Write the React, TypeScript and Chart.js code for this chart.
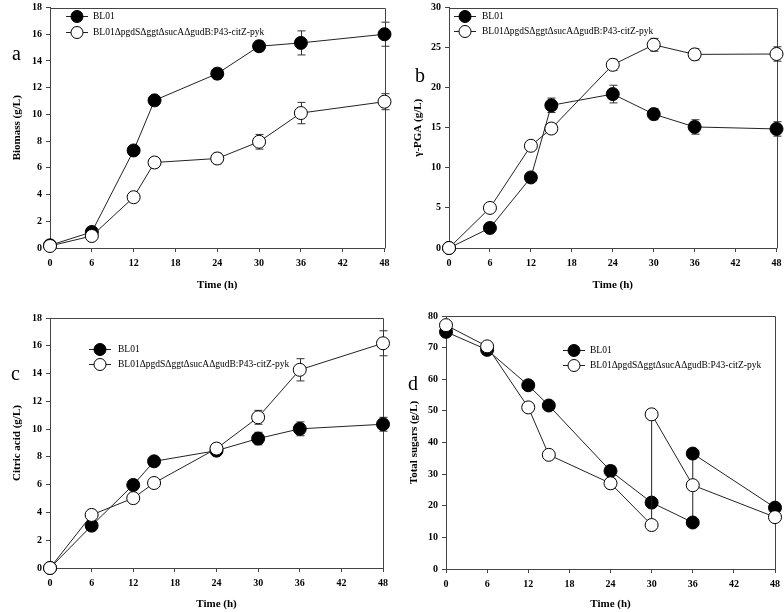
import React, { useEffect, useRef } from 'react';
import { Chart, registerables } from 'chart.js';

Chart.register(...registerables);

const FONT = "'Liberation Serif', 'Times New Roman', Times, serif";
const LINE = '#222';
const FRAME = '#444';

const seriesLabels = ['BL01', 'BL01ΔpgdSΔggtΔsucAΔgudB:P43-citZ-pyk'];
const timeH = [0, 6, 12, 15, 24, 30, 36, 48];
const timeStep = 6;
const timeMax = 48;

// Panel a: Biomass
const biomassBL01 = [0.2, 1.2, 7.3, 11.05, 13.05, 15.1, 15.35, 16.0];
const biomassBL01Err = [0, 0.1, 0.2, 0.2, 0.4, 0.4, 0.9, 0.9];
const biomassMut = [0.15, 0.9, 3.8, 6.4, 6.7, 7.95, 10.1, 10.95];
const biomassMutErr = [0, 0.1, 0.2, 0.2, 0.4, 0.55, 0.8, 0.6];

// Panel b: γ-PGA
const pgaBL01 = [0, 2.5, 8.8, 17.8, 19.2, 16.7, 15.1, 14.85];
const pgaBL01Err = [0, 0.2, 0.3, 0.9, 1.1, 0.7, 0.9, 0.9];
const pgaMut = [0, 5.0, 12.75, 14.9, 22.85, 25.35, 24.15, 24.2];
const pgaMutErr = [0, 0.2, 0.3, 0.4, 0.7, 0.8, 0.7, 0.9];

// Panel c: Citric acid
const citBL01 = [0, 3.05, 5.98, 7.68, 8.45, 9.32, 10.02, 10.35];
const citBL01Err = [0, 0.1, 0.15, 0.15, 0.2, 0.45, 0.5, 0.5];
const citMut = [0, 3.82, 5.03, 6.12, 8.6, 10.85, 14.27, 16.18];
const citMutErr = [0, 0.1, 0.15, 0.15, 0.15, 0.5, 0.8, 0.9];

// Panel d: Total sugars (fed-batch; repeated time points)
const sugarTimeBL01 = [0, 6, 12, 15, 24, 30, 36, 36, 48];
const sugarBL01 = [75.0, 69.3, 58.1, 51.7, 31.0, 21.0, 14.7, 36.5, 19.4];
const sugarBL01Err = [0, 0, 0, 0, 1.5, 0, 0, 0, 0];
const sugarTimeMut = [0, 6, 12, 15, 24, 30, 30, 36, 48];
const sugarMut = [77.1, 70.4, 51.1, 36.1, 27.1, 13.9, 48.9, 26.5, 16.4];
const sugarMutErr = [0, 0, 0, 0, 1.5, 0, 0, 0, 0];

type Series = { xs: number[]; ys: number[]; errs: number[] };
type PanelSpec = {
  left: number; top: number; w: number; h: number;
  area: { l: number; r: number; t: number; b: number };
  yMax: number; yStep: number; yTitle: string; yTitlePad: number; xTitlePad: number;
  letter: string; letterX: number; letterY: number;
  legendX: number; legendTextX: number; legendY: [number, number];
  series: [Series, Series];
};

const panels: PanelSpec[] = [
  {
    left: 0, top: 0, w: 392, h: 306,
    area: { l: 50, r: 387, t: 5, b: 248 },
    yMax: 18, yStep: 2, yTitle: 'Biomass (g/L)', yTitlePad: 11, xTitlePad: 14,
    letter: 'a', letterX: 12, letterY: 60,
    legendX: 77, legendTextX: 93, legendY: [16, 32],
    series: [
      { xs: timeH, ys: biomassBL01, errs: biomassBL01Err },
      { xs: timeH, ys: biomassMut, errs: biomassMutErr },
    ],
  },
  {
    left: 392, top: 0, w: 392, h: 306,
    area: { l: 57, r: 387, t: 6, b: 248 },
    yMax: 30, yStep: 5, yTitle: 'γ-PGA (g/L)', yTitlePad: 20, xTitlePad: 14,
    letter: 'b', letterX: 23, letterY: 82,
    legendX: 73, legendTextX: 90, legendY: [16, 31],
    series: [
      { xs: timeH, ys: pgaBL01, errs: pgaBL01Err },
      { xs: timeH, ys: pgaMut, errs: pgaMutErr },
    ],
  },
  {
    left: 0, top: 306, w: 392, h: 306,
    area: { l: 50, r: 383, t: 12, b: 262 },
    yMax: 18, yStep: 2, yTitle: 'Citric acid (g/L)', yTitlePad: 11, xTitlePad: 1,
    letter: 'c', letterX: 11, letterY: 74,
    legendX: 100, legendTextX: 118, legendY: [43, 58],
    series: [
      { xs: timeH, ys: citBL01, errs: citBL01Err },
      { xs: timeH, ys: citMut, errs: citMutErr },
    ],
  },
  {
    left: 392, top: 306, w: 392, h: 306,
    area: { l: 54, r: 383, t: 10, b: 263 },
    yMax: 80, yStep: 10, yTitle: 'Total sugars (g/L)', yTitlePad: 16, xTitlePad: 1,
    letter: 'd', letterX: 16, letterY: 84,
    legendX: 182, legendTextX: 198, legendY: [44, 59],
    series: [
      { xs: sugarTimeBL01, ys: sugarBL01, errs: sugarBL01Err },
      { xs: sugarTimeMut, ys: sugarMut, errs: sugarMutErr },
    ],
  },
];

function PanelChart({ spec }: { spec: PanelSpec }) {
  const ref = useRef<HTMLCanvasElement>(null);
  useEffect(() => {
    const canvas = ref.current;
    if (!canvas) return;
    const s = spec;
    const fills = ['#000', '#fff'];

    const decor = {
      id: 'decor',
      beforeDatasetsDraw(chart: any) {
        const ctx = chart.ctx;
        const a = chart.chartArea;
        ctx.save();
        ctx.strokeStyle = FRAME;
        ctx.lineWidth = 1;
        ctx.beginPath();
        const L = Math.round(a.left) + 0.5, R = Math.round(a.right) + 0.5;
        const T = Math.round(a.top) + 0.5, B = Math.round(a.bottom) + 0.5;
        ctx.moveTo(L, T); ctx.lineTo(R, T); ctx.lineTo(R, B);
        ctx.stroke();
        // error bars
        const yScale = chart.scales.y;
        ctx.strokeStyle = '#333';
        s.series.forEach((ser, i) => {
          const meta = chart.getDatasetMeta(i);
          ser.errs.forEach((e, j) => {
            if (!e) return;
            const el = meta.data[j];
            const x = Math.round(el.x) + 0.5;
            const yt = yScale.getPixelForValue(ser.ys[j] + e);
            const yb = yScale.getPixelForValue(ser.ys[j] - e);
            ctx.beginPath();
            ctx.moveTo(x, yt); ctx.lineTo(x, yb);
            ctx.moveTo(x - 4, yt); ctx.lineTo(x + 4, yt);
            ctx.moveTo(x - 4, yb); ctx.lineTo(x + 4, yb);
            ctx.stroke();
          });
        });
        ctx.restore();
      },
      afterDraw(chart: any) {
        const ctx = chart.ctx;
        ctx.save();
        // legend
        seriesLabels.forEach((lab, i) => {
          const y = s.legendY[i] + 0.5;
          ctx.strokeStyle = LINE;
          ctx.lineWidth = 1;
          ctx.beginPath();
          ctx.moveTo(s.legendX - 11, y);
          ctx.lineTo(s.legendX + 11, y);
          ctx.stroke();
          ctx.beginPath();
          ctx.arc(s.legendX, y, 6, 0, Math.PI * 2);
          ctx.fillStyle = fills[i];
          ctx.fill();
          ctx.strokeStyle = '#000';
          ctx.stroke();
          ctx.fillStyle = '#000';
          ctx.font = `9.5px ${FONT}`;
          ctx.textAlign = 'left';
          ctx.textBaseline = 'middle';
          ctx.fillText(lab, s.legendTextX, y);
        });
        // panel letter
        ctx.font = `20px ${FONT}`;
        ctx.fillStyle = '#000';
        ctx.textAlign = 'left';
        ctx.textBaseline = 'alphabetic';
        ctx.fillText(s.letter, s.letterX, s.letterY);
        ctx.restore();
      },
    };

    const datasets = s.series.map((ser, i) => ({
      label: seriesLabels[i],
      data: ser.xs.map((x, j) => ({ x, y: ser.ys[j] })),
      borderColor: LINE,
      borderWidth: 1,
      pointRadius: 6.5,
      pointHoverRadius: 6.5,
      pointBackgroundColor: fills[i],
      pointBorderColor: '#000',
      pointBorderWidth: 1,
      tension: 0,
      clip: false as any,
      order: i === 0 ? 1 : 0,
    }));

    const chart = new Chart(canvas, {
      type: 'line',
      data: { datasets },
      options: {
        responsive: false,
        animation: false,
        events: [],
        layout: { padding: { top: s.area.t, right: s.w - s.area.r, left: 0, bottom: 0 } },
        plugins: { legend: { display: false }, tooltip: { enabled: false } },
        scales: {
          x: {
            type: 'linear',
            min: 0,
            max: timeMax,
            afterFit: (sc: any) => {
              sc.height = s.h - s.area.b;
              sc.paddingLeft = 0; sc.paddingRight = 0;
            },
            ticks: {
              stepSize: timeStep,
              color: '#000',
              padding: 5,
              maxRotation: 0,
              autoSkip: false,
              font: { family: FONT, size: 10, weight: 'bold' },
            },
            grid: { drawOnChartArea: false, drawTicks: true, tickLength: 4, color: FRAME },
            border: { display: true, color: FRAME },
            title: {
              display: true,
              text: 'Time (h)',
              color: '#000',
              font: { family: FONT, size: 11, weight: 'bold' },
              padding: { top: 0, bottom: s.xTitlePad },
            },
          },
          y: {
            type: 'linear',
            min: 0,
            max: s.yMax,
            afterFit: (sc: any) => {
              sc.width = s.area.l;
              sc.paddingTop = 0; sc.paddingBottom = 0;
            },
            ticks: {
              stepSize: s.yStep,
              color: '#000',
              padding: 4,
              autoSkip: false,
              font: { family: FONT, size: 10, weight: 'bold' },
            },
            grid: { drawOnChartArea: false, drawTicks: true, tickLength: 4, color: FRAME },
            border: { display: true, color: FRAME },
            title: {
              display: true,
              text: s.yTitle,
              color: '#000',
              font: { family: FONT, size: 11, weight: 'bold' },
              padding: { top: s.yTitlePad, bottom: 0 },
            },
          },
        },
      } as any,
      plugins: [decor],
    });
    return () => chart.destroy();
  }, [spec]);

  return (
    <canvas
      ref={ref}
      width={spec.w}
      height={spec.h}
      style={{ position: 'absolute', left: spec.left, top: spec.top, width: spec.w, height: spec.h, display: 'block' }}
    />
  );
}

export default function App() {
  return (
    <div style={{ position: 'absolute', left: 0, top: 0, width: 784, height: 612, background: '#fff', overflow: 'hidden' }}>
      {panels.map((p, i) => (
        <PanelChart key={i} spec={p} />
      ))}
    </div>
  );
}
